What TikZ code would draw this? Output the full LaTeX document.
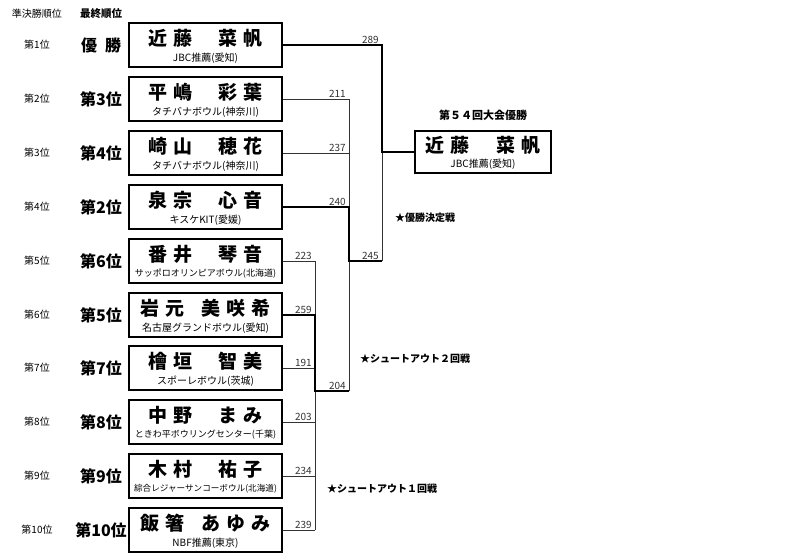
\documentclass[tikz,border=0pt]{standalone}
\usepackage{fontspec}
\setmainfont{Noto Sans CJK JP}
\usetikzlibrary{calc}
\newcommand{\kgap}{\hspace{0.32em}}
\newcommand{\wgap}{\hspace{1.4em}}
\newcommand{\mgap}{\hspace{0.85em}}
% box with name and club
\newcommand{\player}[4]{%
  \node[player box] (#1) at #2 {};
  \node[name text] (#1n) at ([yshift=7pt]#1.center) {#3};
  \node[club text] (#1c) at ([yshift=-13pt]#1.center) {#4};
}

\begin{document}
\begin{tikzpicture}[x=1pt,y=-1pt,
  player box/.style={draw,line width=1.6pt,minimum width=153pt,minimum height=44pt,inner sep=0pt},
  name text/.style={inner sep=0pt,font=\fontsize{19}{19}\selectfont\bfseries},
  club text/.style={inner sep=0pt,font=\fontsize{10}{10}\selectfont},
  old rank/.style={inner sep=0pt,font=\fontsize{10}{10}\selectfont},
  new rank/.style={inner sep=0pt,font=\fontsize{16}{16}\selectfont\bfseries},
  note/.style={inner sep=0pt,anchor=west,font=\fontsize{10}{10}\selectfont\bfseries},
  score/.style={inner sep=1pt,anchor=south east,xshift=-2pt,font=\fontsize{10}{10}\selectfont},
  thin line/.style={draw,line width=0.7pt,black!80},
  win line/.style={draw,line width=2.4pt,black}]

\useasboundingbox (0,0) rectangle (800,559);

\node[old rank] (h1) at (37,14) {準決勝順位};
\node[old rank,font=\fontsize{10.5}{10}\selectfont\bfseries] (h2) at (101,14) {最終順位};

\player{p1}{(205.5,45)}{近\kgap 藤\wgap 菜\kgap 帆}{JBC推薦(愛知)}
\player{p2}{(205.5,99)}{平\kgap 嶋\wgap 彩\kgap 葉}{タチバナボウル(神奈川)}
\player{p3}{(205.5,153)}{崎\kgap 山\wgap 穂\kgap 花}{タチバナボウル(神奈川)}
\player{p4}{(205.5,207)}{泉\kgap 宗\wgap 心\kgap 音}{キスケKIT(愛媛)}
\player{p5}{(205.5,261)}{番\kgap 井\wgap 琴\kgap 音}{\fontsize{9}{9}\selectfont サッポロオリンピアボウル(北海道)}
\player{p6}{(205.5,315)}{岩\kgap 元\mgap 美\kgap 咲\kgap 希}{名古屋グランドボウル(愛知)}
\player{p7}{(205.5,368)}{檜\kgap 垣\wgap 智\kgap 美}{スポーレボウル(茨城)}
\player{p8}{(205.5,422)}{中\kgap 野\wgap ま\kgap み}{\fontsize{9}{9}\selectfont ときわ平ボウリングセンター(千葉)}
\player{p9}{(205.5,476)}{木\kgap 村\wgap 祐\kgap 子}{\fontsize{8.6}{9}\selectfont 綜合レジャーサンコーボウル(北海道)}
\player{p10}{(205.5,530)}{飯\kgap 箸\mgap あ\kgap ゆ\kgap み}{NBF推薦(東京)}

\node[old rank] (o1) at (37,45) {第1位};
\node[old rank] (o2) at (37,99) {第2位};
\node[old rank] (o3) at (37,153) {第3位};
\node[old rank] (o4) at (37,207) {第4位};
\node[old rank] (o5) at (37,261) {第5位};
\node[old rank] (o6) at (37,315) {第6位};
\node[old rank] (o7) at (37,368) {第7位};
\node[old rank] (o8) at (37,422) {第8位};
\node[old rank] (o9) at (37,476) {第9位};
\node[old rank] (o10) at (37,530) {第10位};

\node[new rank] (f1) at (101,45) {優\hspace{0.5em}勝};
\node[new rank] (f2) at (101,99) {第3位};
\node[new rank] (f3) at (101,153) {第4位};
\node[new rank] (f4) at (101,207) {第2位};
\node[new rank] (f5) at (101,261) {第6位};
\node[new rank] (f6) at (101,315) {第5位};
\node[new rank] (f7) at (101,368) {第7位};
\node[new rank] (f8) at (101,422) {第8位};
\node[new rank] (f9) at (101,476) {第9位};
\node[new rank] (f10) at (101,530) {第10位};

% champion
\node[player box,minimum width=136pt,minimum height=42pt] (champ) at (483,152) {};
\node[name text] (champn) at ([yshift=7pt]champ.center) {近\kgap 藤\wgap 菜\kgap 帆};
\node[club text] (champc) at ([yshift=-12pt]champ.center) {JBC推薦(愛知)};
\node[inner sep=0pt,font=\fontsize{11}{11}\selectfont\bfseries] (title) at (483,115) {第５４回大会優勝};

\coordinate (r1) at (315,391);
\coordinate (r2) at (349,261);
\coordinate (fin) at (382,152);

% shootout 1
\path[thin line]
(p5.east) edge node[score,pos=1] (s5) {223} (p5.east -| r1)
(p6.east) edge node[score,pos=1] (s6) {259} (p6.east -| r1)
(p7.east) edge node[score,pos=1] (s7) {191} (p7.east -| r1)
(p8.east) edge node[score,pos=1] (s8) {203} (p8.east -| r1)
(p9.east) edge node[score,pos=1] (s9) {234} (p9.east -| r1)
(p10.east) edge node[score,pos=1] (s10) {239} (p10.east -| r1)
(p5.east -| r1) edge (p10.east -| r1);

% shootout 2
\path[thin line]
(p2.east) edge node[score,pos=1] (s2) {211} (p2.east -| r2)
(p3.east) edge node[score,pos=1] (s3) {237} (p3.east -| r2)
(p4.east) edge node[score,pos=1] (s4) {240} (p4.east -| r2)
(r1) edge node[score,pos=1] (s11) {204} (r1 -| r2)
(p2.east -| r2) edge (r1 -| r2);

% final
\path[thin line]
(p1.east) edge node[score,pos=1] (s1) {289} (p1.east -| fin)
(r2) edge node[score,pos=1] (s12) {245} (r2 -| fin)
(p1.east -| fin) edge (r2 -| fin);

\draw[win line] (p6.east) -| (r1) -- (r1 -| r2);
\draw[win line] (p4.east) -| (r2) -- (r2 -| fin);
\draw[win line] (p1.east) -| (fin) -- (champ.west);

\node[note] (n1) at (395,218) {★優勝決定戦};
\node[note] (n2) at (360,359) {★シュートアウト２回戦};
\node[note] (n3) at (327,489) {★シュートアウト１回戦};

\end{tikzpicture}
\end{document}
